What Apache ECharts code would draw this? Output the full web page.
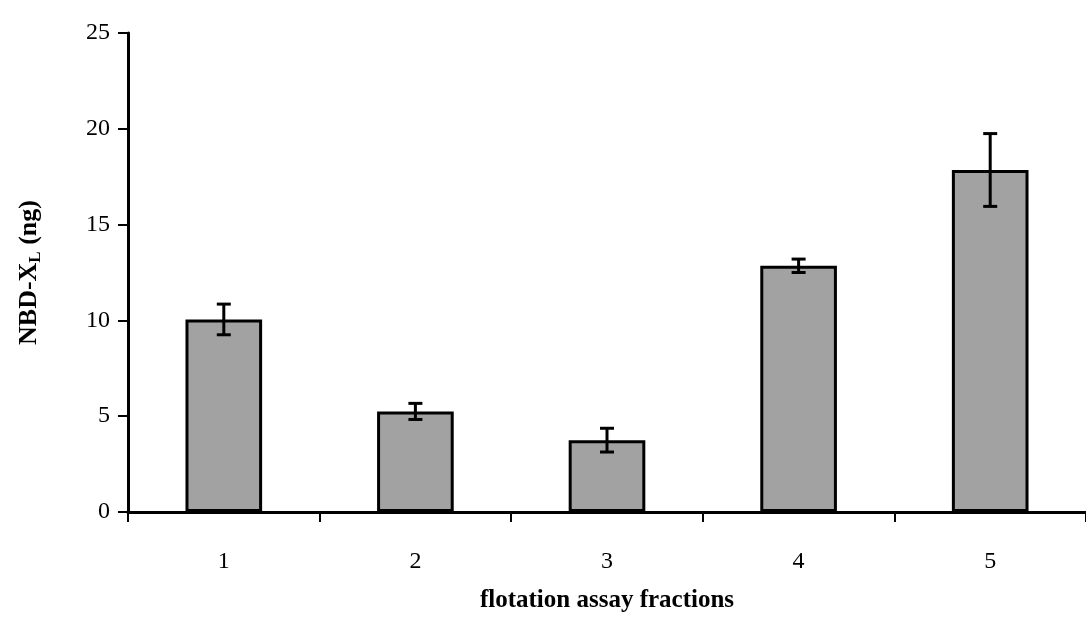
<!DOCTYPE html>
<html>
<head>
<meta charset="utf-8">
<script src="https://cdn.jsdelivr.net/npm/echarts@6/dist/echarts.min.js"></script>
<style>html,body{margin:0;padding:0;background:#fff;}#c{width:1086px;height:619px;}</style>
</head>
<body>
<div id="c"></div>
<script>
const categories = ['1', '2', '3', '4', '5'];
const values = [10.05, 5.25, 3.75, 12.85, 17.85];
const errors = [0.8, 0.42, 0.62, 0.35, 1.9];
const yTicks = [0, 5, 10, 15, 20, 25];

const chart = echarts.init(document.getElementById('c'), null, {renderer: 'canvas'});
const serif = '"Liberation Serif", "DejaVu Serif", serif';

const errData = values.map((v, i) => [i, v - errors[i], v + errors[i]]);

chart.setOption({
  animation: false,
  backgroundColor: '#fff',
  grid: {left: 128, top: 33, width: 962, height: 479, containLabel: false},
  xAxis: {
    type: 'category',
    data: categories,
    boundaryGap: true,
    name: 'flotation assay fractions',
    nameLocation: 'middle',
    nameGap: 76,
    nameTextStyle: {fontFamily: serif, fontWeight: 'bold', fontSize: 25, color: '#000'},
    axisLine: {lineStyle: {color: '#000', width: 3}},
    axisTick: {show: true, inside: false, length: 10, alignWithLabel: false, lineStyle: {color: '#000', width: 2}},
    axisLabel: {fontFamily: serif, fontSize: 24, color: '#000', margin: 38},
    splitLine: {show: false}
  },
  yAxis: {
    type: 'value',
    min: 0, max: 25, interval: 5,
    name: '{a|NBD-X}{s|L}{a| (ng)}',
    nameLocation: 'middle',
    nameGap: 84,
    nameRotate: 90,
    nameTextStyle: {
      rich: {
        a: {fontFamily: serif, fontWeight: 'bold', fontSize: 26, color: '#000', lineHeight: 30},
        s: {fontFamily: serif, fontWeight: 'bold', fontSize: 17, color: '#000', lineHeight: 30, verticalAlign: 'bottom', padding: [12, 0, 0, 0]}
      }
    },
    axisLine: {show: true, lineStyle: {color: '#000', width: 3}},
    axisTick: {show: true, inside: false, length: 10, lineStyle: {color: '#000', width: 2}},
    axisLabel: {fontFamily: serif, fontSize: 24, color: '#000', margin: 18,
      formatter: v => yTicks.includes(v) ? String(v) : ''},
    splitLine: {show: false}
  },
  series: [
    {
      type: 'bar',
      data: values,
      barWidth: '40%',
      itemStyle: {color: '#a2a2a2', borderColor: '#000', borderWidth: 3},
      z: 2
    },
    {
      type: 'custom',
      data: errData,
      z: 5,
      renderItem: function (params, api) {
        const x = api.value(0);
        const lo = api.coord([x, api.value(1)]);
        const hi = api.coord([x, api.value(2)]);
        const cap = 7;
        const style = {stroke: '#000', lineWidth: 3};
        return {
          type: 'group',
          children: [
            {type: 'line', shape: {x1: hi[0], y1: hi[1], x2: lo[0], y2: lo[1]}, style: style},
            {type: 'line', shape: {x1: hi[0] - cap, y1: hi[1], x2: hi[0] + cap, y2: hi[1]}, style: style},
            {type: 'line', shape: {x1: lo[0] - cap, y1: lo[1], x2: lo[0] + cap, y2: lo[1]}, style: style}
          ]
        };
      },
      encode: {x: 0, y: [1, 2]}
    }
  ]
});
</script>
</body>
</html>
